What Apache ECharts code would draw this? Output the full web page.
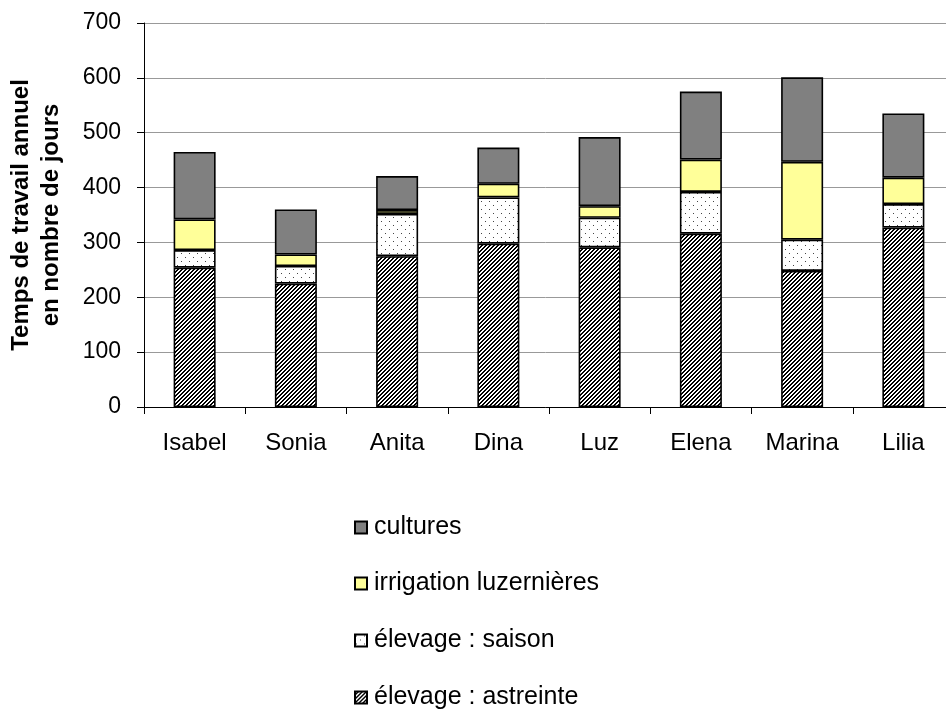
<!DOCTYPE html>
<html>
<head>
<meta charset="utf-8">
<script src="https://cdn.jsdelivr.net/npm/echarts@6/dist/echarts.min.js"></script>
<style>
  html, body { margin: 0; padding: 0; background: #fff; }
  #main { width: 946px; height: 713px; }
</style>
</head>
<body>
<div id="main"></div>
<script>
// data (segment heights, in days)
var names = ['Isabel', 'Sonia', 'Anita', 'Dina', 'Luz', 'Elena', 'Marina', 'Lilia'];
var astreinte = [254, 225, 275, 298, 291, 316, 248, 327];
var saison = [32, 32, 77, 84, 54, 76, 57, 43];
var irrigation = [56, 21, 7, 25, 21, 59, 142, 48];
var cultures = [123, 82, 62, 66, 126, 124, 154, 117];
var yTicks = [0, 100, 200, 300, 400, 500, 600, 700];

var font = '"Liberation Sans", Arial, sans-serif';

// hatch fill for "astreinte"
function hatch() {
  var c = document.createElement('canvas');
  c.width = 4; c.height = 4;
  var ctx = c.getContext('2d');
  ctx.fillStyle = '#fff';
  ctx.fillRect(0, 0, 4, 4);
  ctx.fillStyle = '#000';
  var rows = [[2, 3], [1, 2], [0, 1], [3, 0]];
  rows.forEach(function (r, y) {
    r.forEach(function (x) { ctx.fillRect(x, y, 1, 1); });
  });
  return c;
}
// sparse dots for "saison"
function dots() {
  var c = document.createElement('canvas');
  c.width = 8; c.height = 8;
  var ctx = c.getContext('2d');
  ctx.fillStyle = '#fff';
  ctx.fillRect(0, 0, 8, 8);
  ctx.fillStyle = '#444';
  ctx.fillRect(1, 1, 1, 1);
  ctx.fillRect(5, 5, 1, 1);
  return c;
}

var myChart = echarts.init(document.getElementById('main'), null, { renderer: 'canvas' });

function bar(name, data, color) {
  return {
    name: name,
    type: 'bar',
    stack: 'total',
    barWidth: 42,
    data: data,
    itemStyle: { color: color, borderColor: '#000', borderWidth: 1.6 }
  };
}

function legendItem(name, top) {
  return {
    data: [name],
    orient: 'vertical',
    left: 354,
    top: top,
    padding: 0,
    icon: 'rect',
    itemWidth: 12,
    itemHeight: 12,
    itemGap: 6,
    selectedMode: false,
    textStyle: { fontFamily: font, fontSize: 25, color: '#000', padding: [0, 0, 0, 2] }
  };
}

var option = {
  animation: false,
  backgroundColor: '#fff',
  grid: { left: 144, top: 23, width: 810, height: 384, outerBoundsMode: 'none', containLabel: false },
  legend: [
    legendItem('cultures', 515),
    legendItem('irrigation luzernières', 571),
    legendItem('élevage : saison', 628),
    legendItem('élevage : astreinte', 685)
  ],
  xAxis: {
    type: 'category',
    data: names,
    axisLine: { lineStyle: { color: '#000', width: 1 } },
    axisTick: { show: true, length: 7, alignWithLabel: false, lineStyle: { color: '#000' } },
    axisLabel: { fontFamily: font, fontSize: 24, color: '#000', margin: 24 }
  },
  yAxis: {
    type: 'value',
    min: 0,
    max: 700,
    interval: 100,
    name: 'Temps de travail annuel\nen nombre de jours',
    nameLocation: 'middle',
    nameRotate: 90,
    nameGap: 78,
    nameTextStyle: { fontFamily: font, fontSize: 24, fontWeight: 'bold', color: '#000', lineHeight: 30 },
    axisLine: { show: true, lineStyle: { color: '#000', width: 1 } },
    axisTick: { show: true, length: 7, lineStyle: { color: '#000' } },
    axisLabel: {
      fontFamily: font, fontSize: 23, color: '#000', margin: 23,
      formatter: function (v) { return yTicks.indexOf(v) >= 0 ? String(v) : ''; }
    },
    splitLine: { show: true, lineStyle: { color: '#999', width: 1 } }
  },
  series: [
    bar('élevage : astreinte', astreinte, { image: hatch(), repeat: 'repeat' }),
    bar('élevage : saison', saison, { image: dots(), repeat: 'repeat' }),
    bar('irrigation luzernières', irrigation, '#ffff99'),
    bar('cultures', cultures, '#808080')
  ]
};

myChart.setOption(option);
</script>
</body>
</html>
